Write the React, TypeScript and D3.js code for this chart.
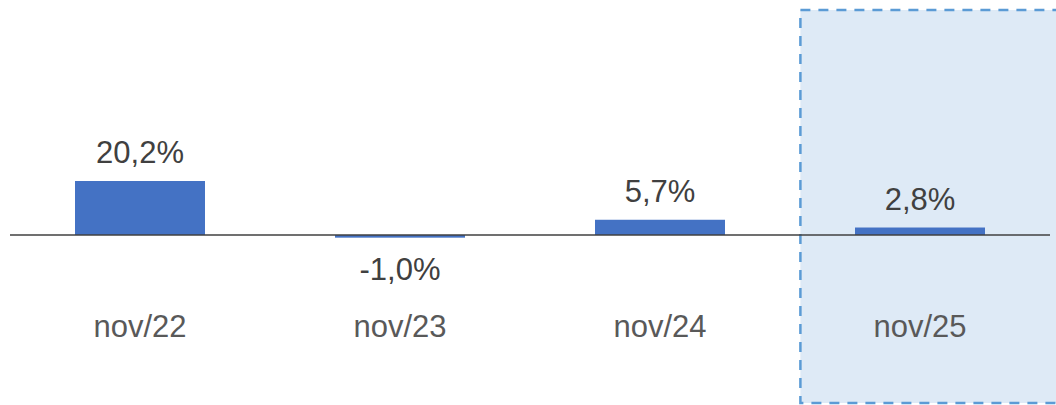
import React, { useRef, useEffect } from "react";
import * as d3 from "d3";

const categories = ["nov/22", "nov/23", "nov/24", "nov/25"];
const values = [20.2, -1.0, 5.7, 2.8];
const highlighted = ["nov/25"];

const App = () => {
  const svgRef = useRef<SVGSVGElement>(null);

  useEffect(() => {
    const width = 1056,
      height = 405;
    const svg = d3.select(svgRef.current);
    svg.selectAll("*").remove();

    const font = "'Liberation Sans', Arial, sans-serif";

    // x band scale over the plot width
    const x = d3
      .scaleBand()
      .domain(categories)
      .range([10, 1050])
      .paddingInner(0.5)
      .paddingOuter(0.25);

    // y scale
    const y = d3.scaleLinear().domain([0, 20.2]).range([235, 181]);

    // highlight box behind the last category
    const step = x.step();
    svg
      .selectAll(".hl")
      .data(highlighted)
      .enter()
      .append("rect")
      .attr("x", (d) => x(d)! - step * 0.21)
      .attr("y", 10)
      .attr("width", 300)
      .attr("height", 393)
      .attr("fill", "#DEEAF6")
      .attr("stroke", "#5B9BD5")
      .attr("stroke-width", 2.5)
      .attr("stroke-dasharray", "10,8");

    // bars
    svg
      .selectAll(".bar")
      .data(values)
      .enter()
      .append("rect")
      .attr("x", (d, i) => x(categories[i])!)
      .attr("y", (d) => Math.min(y(d), y(0)))
      .attr("width", x.bandwidth())
      .attr("height", (d) => Math.abs(y(d) - y(0)))
      .attr("fill", "#4472C4");

    // baseline
    svg
      .append("line")
      .attr("x1", 10)
      .attr("x2", 1050)
      .attr("y1", y(0))
      .attr("y2", y(0))
      .attr("stroke", "#404040")
      .attr("stroke-width", 1.5);

    const fmt = (v: number) => v.toFixed(1).replace(".", ",") + "%";

    // value labels
    svg
      .selectAll(".val")
      .data(values)
      .enter()
      .append("text")
      .attr("x", (d, i) => x(categories[i])! + x.bandwidth() / 2)
      .attr("y", (d) => (d >= 0 ? y(d) - 18 : y(d) + 42))
      .attr("text-anchor", "middle")
      .attr("font-family", font)
      .attr("font-size", 31)
      .attr("fill", "#404040")
      .text((d) => fmt(d));

    // category labels
    svg
      .selectAll(".cat")
      .data(categories)
      .enter()
      .append("text")
      .attr("x", (d) => x(d)! + x.bandwidth() / 2)
      .attr("y", 337)
      .attr("text-anchor", "middle")
      .attr("font-family", font)
      .attr("font-size", 31)
      .attr("fill", "#595959")
      .text((d) => d);

    svg.attr("width", width).attr("height", height);
  }, []);

  return (
    <div style={{ position: "absolute", left: 0, top: 0 }}>
      <svg ref={svgRef} width={1056} height={405} style={{ display: "block" }}></svg>
    </div>
  );
};

export default App;
